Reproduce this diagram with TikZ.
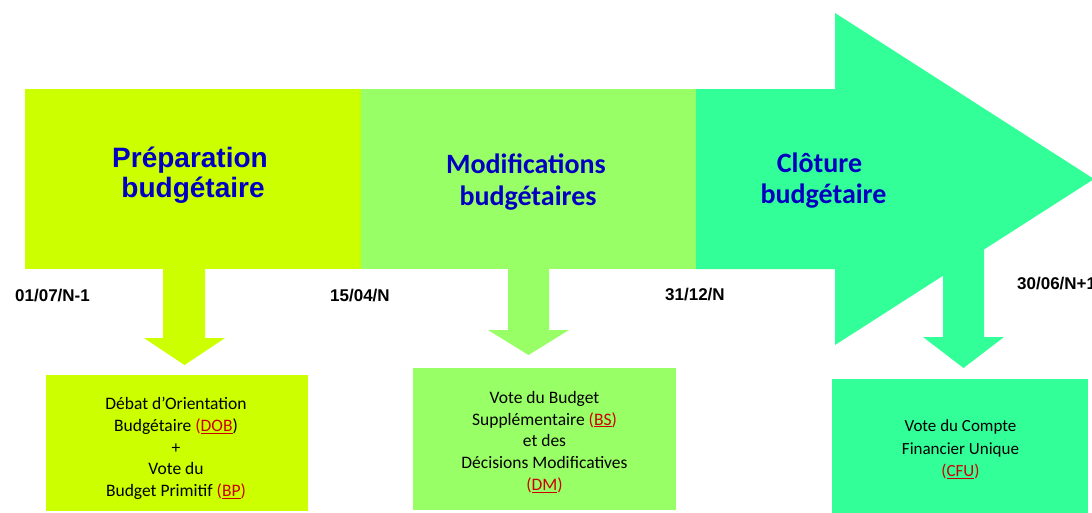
\documentclass[tikz,border=0pt]{standalone}
\usepackage{fontspec}
\newfontfamily\arialf{Liberation Sans}
\newfontfamily\calf{Carlito}
\definecolor{cA}{RGB}{204,255,0}
\definecolor{cB}{RGB}{153,255,102}
\definecolor{cC}{RGB}{51,255,153}
\definecolor{ttl}{RGB}{0,0,192}
\definecolor{rd}{RGB}{204,0,0}
\newcommand\redu[1]{\underline{#1}}
\tikzset{
  sect/.style={inner sep=0pt, outer sep=0pt, anchor=north west},
  ttlA/.style={anchor=base, inner sep=0pt, text=ttl, font=\arialf\bfseries\fontsize{28}{30}\selectfont},
  ttlC/.style={anchor=base, inner sep=0pt, text=ttl, font=\calf\bfseries\fontsize{28}{30}\selectfont},
  datelbl/.style={anchor=base west, inner sep=0pt, font=\arialf\bfseries\fontsize{17}{20}\selectfont},
  boxtxt/.style={align=center, inner sep=0pt, font=\calf\fontsize{17.5}{21.75}\selectfont},
}
\begin{document}
\begin{tikzpicture}[x=1pt,y=-1pt]
\useasboundingbox (0,0) rectangle (1092,512);
% main bar
\node[sect, fill=cA, minimum width=337, minimum height=180] (s1) at (25,89) {};
\node[sect, fill=cB, minimum width=336, minimum height=180] (s2) at (361,89) {};
\fill[cC] (696,89) -- (835,89) -- (835,13) -- (1094,179) -- (835,345) -- (835,269) -- (696,269) -- cycle;
\coordinate (s3) at (765,179);
% down arrows
\fill[cA] (163,268) -- (205,268) -- (205,338) -- (225,338) -- (184.5,365) -- (144,338) -- (163,338) -- cycle;
\fill[cB] (508,268) -- (549,268) -- (549,330) -- (569,330) -- (528.5,355) -- (488,330) -- (508,330) -- cycle;
\fill[cC] (943,250) -- (984,250) -- (984,337) -- (1004,337) -- (963.5,368) -- (923,337) -- (943,337) -- cycle;
% titles
\node[ttlA] (t1a) at (190,167) {Préparation};
\node[ttlA] (t1b) at (193,197) {budgétaire};
\node[ttlC] (t2a) at (526,173) {Modifications};
\node[ttlC] (t2b) at (528,205) {budgétaires};
\node[ttlC] (t3a) at (819.5,172) {Clôture};
\node[ttlC] (t3b) at (823.5,203) {budgétaire};
% dates
\node[datelbl] (d1) at (15,301) {01/07/N-1};
\node[datelbl] (d2) at (330,301) {15/04/N};
\node[datelbl] (d3) at (665,300) {31/12/N};
\node[datelbl] (d4) at (1017,289) {30/06/N+1};
% boxes
\node[sect, fill=cA, minimum width=262, minimum height=136] (b1) at (46,375) {};
\node[sect, fill=cB, minimum width=263, minimum height=142] (b2) at (413,368) {};
\node[sect, fill=cC, minimum width=256, minimum height=140] (b3) at (832,379) {};
\node[boxtxt] (b1t) at (176,448.5) {Débat d’Orientation\\Budgétaire {\color{rd}(\redu{DOB}})\\+\\Vote du\\Budget Primitif {\color{rd}(\redu{BP})}};
\node[boxtxt] (b2t) at (544.5,442) {Vote du Budget\\Supplémentaire {\color{rd}(\redu{BS})}\\et des\\Décisions Modificatives\\{\color{rd}(\redu{DM})}};
\node[boxtxt, font=\calf\fontsize{17}{22.5}\selectfont] (b3t) at (960.5,449.5) {Vote du Compte\\Financier Unique\\{\color{rd}(\redu{CFU})}};
\end{tikzpicture}
\end{document}
